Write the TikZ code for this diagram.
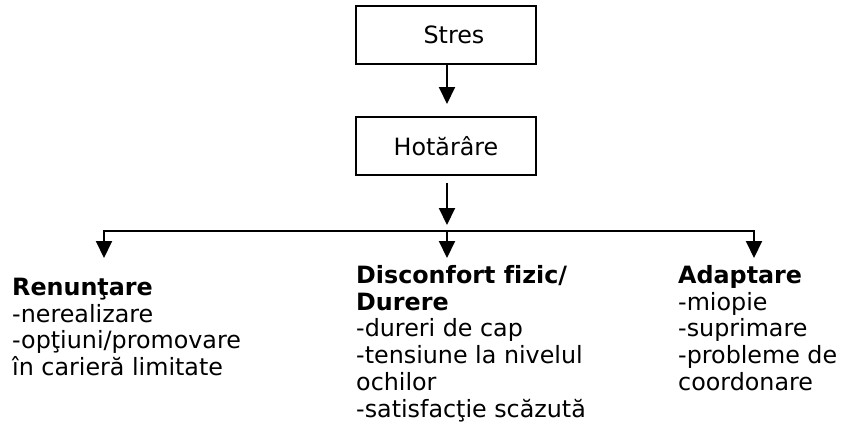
\documentclass[tikz,border=0pt]{standalone}
\usepackage{fontspec}
\setmainfont{DejaVu Sans}[Ligatures=NoCommon]
\usetikzlibrary{arrows.meta}
\tikzset{
  box/.style={draw, line width=2pt, minimum width=180pt, minimum height=58pt,
    inner sep=0pt, font=\fontsize{23.8}{26.8}\selectfont},
  arr/.style={line width=2pt, -{Triangle[width=16pt,length=17pt]}},
  link/.style={line width=2pt},
  outcome/.style={anchor=north west, inner sep=0pt, align=left,
    font=\fontsize{23.8}{26.8}\selectfont},
}
\newcommand{\firstline}{\rule{0pt}{20pt}}
\begin{document}
\begin{tikzpicture}[x=1pt, y=-1pt]
  \useasboundingbox (0,0) rectangle (841,432);

  % decision chain
  \node[box] (stres) at (446,35) {\hspace*{16pt}Stres};
  \node[box] (hot) at (446,146) {Hotărâre};

  % branching rail and arrow tips
  \coordinate (split) at (447,231);
  \coordinate (lft) at (104,231);
  \coordinate (rgt) at (754,231);
  \coordinate (jtip) at (447,225);
  \coordinate (t1) at (104,258);
  \coordinate (t2) at (447,258);
  \coordinate (t3) at (754,258);

  \draw[arr] ([xshift=1pt]stres.south) -- ([xshift=1pt,yshift=12pt]hot.north);
  \draw[arr] ([xshift=1pt,yshift=-7pt]hot.south) -- (jtip);
  \draw[link] ([xshift=-1pt]lft) -- ([xshift=1pt]rgt);
  \draw[arr] (lft) -- (t1);
  \draw[arr] (split) -- (t2);
  \draw[arr] (rgt) -- (t3);

  % outcomes
  \node[outcome] (renunt) at (12,275) {\firstline\textbf{Renunţare}\\
    -nerealizare\\ -opţiuni/promovare\\ în carieră limitate};
  \node[outcome] (discon) at (356,263) {\firstline\textbf{Disconfort fizic/}\\
    \textbf{Durere}\\ -dureri de cap\\ -tensiune la nivelul\\ ochilor\\
    -satisfacţie scăzută};
  \node[outcome] (adapt) at (678,263) {\firstline\textbf{Adaptare}\\
    -miopie\\ -suprimare\\ -probleme de\\ coordonare};
\end{tikzpicture}
\end{document}
